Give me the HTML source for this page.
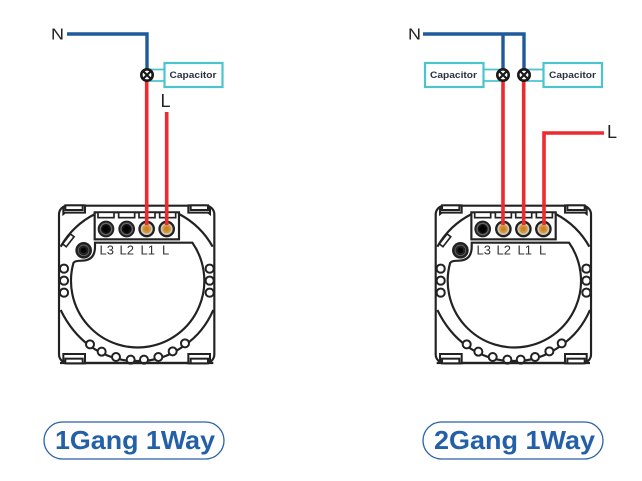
<!DOCTYPE html>
<html>
<head>
<meta charset="utf-8">
<style>
html,body{margin:0;padding:0;background:#fff;width:642px;height:481px;overflow:hidden}
svg{display:block}
text{font-family:"Liberation Sans",sans-serif}
</style>
</head>
<body>
<svg width="642" height="481" viewBox="0 0 642 481" xmlns="http://www.w3.org/2000/svg">
<defs>
<g id="dev" fill="none" stroke="#222" stroke-width="6.500">
  <!-- outer frame -->
  <rect x="57" y="47" width="466" height="472" rx="26" fill="#fff"/>
  <!-- ring arcs -->
  <path d="M62 170 A247 247 0 0 1 165 72"/>
  <path d="M417 72 A247 247 0 0 1 518 170"/>
  <path d="M62 360 Q95 428 150 468 Q205 507 272 513 H312 Q380 507 435 465 Q490 428 520 360"/>
  <!-- bottom bumps -->
  <g fill="#fff" stroke-width="6">
    <circle cx="150" cy="463" r="12"/>
    <circle cx="185" cy="485" r="12"/>
    <circle cx="228" cy="501" r="12"/>
    <circle cx="272" cy="509" r="12"/>
    <circle cx="312" cy="509" r="12"/>
    <circle cx="355" cy="501" r="12"/>
    <circle cx="398" cy="484" r="12"/>
    <circle cx="435" cy="460" r="12"/>
  </g>
  <path d="M60 519 H520" stroke-width="6.500"/>
  <!-- corner clips -->
  <g fill="#fff" stroke-width="6">
    <path d="M70 72 V58 Q70 46 82 46 H135 V68 H75 Z"/>
    <rect x="76" y="46" width="52" height="14"/>
    <path d="M510 72 V58 Q510 46 498 46 H445 V68 H505 Z"/>
    <rect x="452" y="46" width="52" height="14"/>
    <path d="M70 492 V510 Q70 520 82 520 H135 V492 Z"/>
    <rect x="76" y="506" width="52" height="14"/>
    <path d="M510 492 V510 Q510 520 498 520 H445 V492 Z"/>
    <rect x="452" y="506" width="52" height="14"/>
  </g>
  <!-- side bumps -->
  <g fill="#fff" stroke-width="6">
    <rect x="60" y="224" width="24" height="24" rx="11"/>
    <rect x="60" y="260" width="24" height="24" rx="11"/>
    <rect x="60" y="296" width="24" height="24" rx="11"/>
    <rect x="497" y="224" width="24" height="24" rx="11"/>
    <rect x="497" y="260" width="24" height="24" rx="11"/>
    <rect x="497" y="296" width="24" height="24" rx="11"/>
  </g>
  <!-- inner circle with screw notch -->
  <path d="M165 158 H457 A200 200 0 1 1 100 220 Q102 212 125 212 Q165 212 165 170 Z" fill="#fff"/>
  <!-- terminal block -->
  <rect x="164" y="67" width="253" height="81" fill="#fff"/>
  <g fill="#fff" stroke-width="5">
    <rect x="174" y="67" width="48" height="16"/>
    <rect x="236" y="67" width="48" height="16"/>
    <rect x="297" y="67" width="48" height="16"/>
    <rect x="359" y="67" width="48" height="16"/>
  </g>
  <!-- slot -->
  <rect x="78" y="132" width="14" height="38" transform="rotate(38 85 151)" fill="#fff" stroke-width="5"/>
  <!-- screw hole -->
  <circle cx="131" cy="181" r="25" fill="#222" stroke="none"/>
  <circle cx="131" cy="181" r="16" fill="none" stroke="#777" stroke-width="2"/>
  <circle cx="131" cy="181" r="8" fill="#000" stroke="none"/>
</g>
<g id="term0">
  <circle r="25" fill="#222"/>
  <circle r="19" fill="#666"/>
  <circle r="15" fill="#111"/>
  <path d="M-12 0 L0 -12 L12 0 L0 12 Z" fill="#000"/>
</g>
<g id="term1">
  <circle r="25" fill="#222"/>
  <circle r="18" fill="#cfc9bd"/>
  <circle r="13" fill="#d9953a"/>
  <circle r="7" fill="#c98428"/>
</g>
<g id="lamp" fill="#fff" stroke="#1a1a1a">
  <circle r="5.700" stroke-width="2.600"/>
  <path d="M-3.900 -3.900 L3.900 3.900 M3.900 -3.900 L-3.900 3.900" stroke-width="2.200"/>
</g>
</defs>

<!-- LEFT DIAGRAM -->
<path d="M67 34 H147 V69" fill="none" stroke="#1f5a9c" stroke-width="3.400"/>
<g fill="none" stroke="#4cc4ce" stroke-width="1.800">
  <path d="M150 69.500 H164 M150 81 H164"/>
  <rect x="164.500" y="63" width="58" height="24" fill="#fff" stroke-width="2.200"/>
</g>
<text x="169.500" y="78" font-size="9.500" font-weight="bold" fill="#2a3040" textLength="47" lengthAdjust="spacingAndGlyphs">Capacitor</text>
<text x="51" y="39.500" font-size="15.500" fill="#222" textLength="13" lengthAdjust="spacingAndGlyphs">N</text>
<text x="160.500" y="107" font-size="18" fill="#222">L</text>

<g transform="translate(40,190) scale(.33333)">
  <use href="#dev"/>
  <use href="#term0" x="198" y="117"/>
  <use href="#term0" x="260" y="117"/>
  <use href="#term1" x="320" y="117"/>
  <use href="#term1" x="380" y="117"/>
</g>
<path d="M146.700 81 V225 M166.700 112 V225" fill="none" stroke="#ee2a2e" stroke-width="3.600"/>
<use href="#lamp" x="147" y="75"/>
<g font-size="13" fill="#333">
  <text x="99.500" y="254.500">L3</text>
  <text x="119.500" y="254.500">L2</text>
  <text x="140.500" y="254.500">L1</text>
  <text x="162" y="254.500">L</text>
</g>

<rect x="44" y="422" width="180" height="37" rx="18.500" fill="#fff" stroke="#2a62a8" stroke-width="1.300"/>
<text x="55" y="449" font-size="26" font-weight="bold" fill="#2360a8" textLength="160" lengthAdjust="spacingAndGlyphs">1Gang 1Way</text>

<!-- RIGHT DIAGRAM -->
<path d="M423 34 H524 V69 M503 34 V69" fill="none" stroke="#1f5a9c" stroke-width="3.400"/>
<g fill="none" stroke="#4cc4ce" stroke-width="1.800">
  <path d="M484 69.500 H500 M484 81 H500 M527 69.500 H543 M527 81 H543"/>
  <rect x="425" y="63" width="58.500" height="24" fill="#fff" stroke-width="2.200"/>
  <rect x="543.500" y="63" width="58.500" height="24" fill="#fff" stroke-width="2.200"/>
</g>
<text x="430" y="78" font-size="9.500" font-weight="bold" fill="#2a3040" textLength="47" lengthAdjust="spacingAndGlyphs">Capacitor</text>
<text x="549" y="78" font-size="9.500" font-weight="bold" fill="#2a3040" textLength="47" lengthAdjust="spacingAndGlyphs">Capacitor</text>
<text x="408" y="39.500" font-size="15.500" fill="#222" textLength="13" lengthAdjust="spacingAndGlyphs">N</text>
<text x="607" y="138" font-size="18" fill="#222">L</text>

<g transform="translate(416.700,190) scale(.33333)">
  <use href="#dev"/>
  <use href="#term0" x="198" y="117"/>
  <use href="#term1" x="260" y="117"/>
  <use href="#term1" x="320" y="117"/>
  <use href="#term1" x="380" y="117"/>
</g>
<path d="M503 81 V225 M523.700 81 V225 M544 225 V133 H604" fill="none" stroke="#ee2a2e" stroke-width="3.600"/>
<use href="#lamp" x="503" y="75"/>
<use href="#lamp" x="524" y="75"/>
<g font-size="13" fill="#333">
  <text x="476.500" y="254.500">L3</text>
  <text x="496.500" y="254.500">L2</text>
  <text x="517.500" y="254.500">L1</text>
  <text x="539" y="254.500">L</text>
</g>

<rect x="423" y="422" width="180" height="37" rx="18.500" fill="#fff" stroke="#2a62a8" stroke-width="1.300"/>
<text x="434" y="449" font-size="26" font-weight="bold" fill="#2360a8" textLength="161" lengthAdjust="spacingAndGlyphs">2Gang 1Way</text>
</svg>
</body>
</html>
